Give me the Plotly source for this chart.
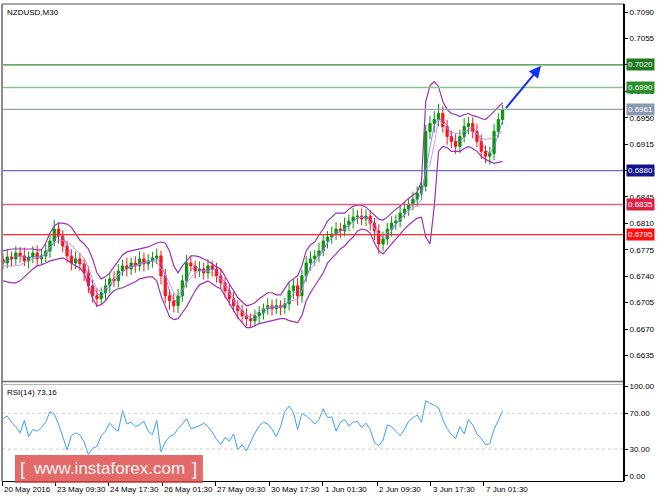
import plotly.graph_objects as go
import pandas as pd

# ---------------- data ----------------
symbol_title = "NZDUSD,M30"
first_open = 0.67620
close = [0.67576, 0.67656, 0.67629, 0.67708, 0.67669, 0.67603, 0.67656, 0.67708, 0.67629, 0.67669,
         0.67735, 0.67867, 0.68025, 0.67932, 0.67801, 0.67669, 0.67576, 0.67629, 0.67563, 0.67444,
         0.67273, 0.67141, 0.67102, 0.67181, 0.67273, 0.67365, 0.67339, 0.67471, 0.67537, 0.67497,
         0.67576, 0.67537, 0.67629, 0.67563, 0.67603, 0.67642, 0.67669, 0.67405, 0.67141, 0.67075,
         0.67010, 0.67141, 0.67339, 0.67576, 0.67537, 0.67471, 0.67497, 0.67444, 0.67537, 0.67497,
         0.67405, 0.67313, 0.67207, 0.67102, 0.67010, 0.66943, 0.66877, 0.66838, 0.66811, 0.66877,
         0.66917, 0.66970, 0.67010, 0.66970, 0.67010, 0.66983, 0.67036, 0.67207, 0.67273, 0.67141,
         0.67405, 0.67576, 0.67629, 0.67669, 0.67735, 0.67867, 0.67919, 0.67959, 0.68025, 0.67999,
         0.68078, 0.68130, 0.68183, 0.68196, 0.68157, 0.68196, 0.68104, 0.67999, 0.67827, 0.67893,
         0.68025, 0.68104, 0.68130, 0.68236, 0.68289, 0.68355, 0.68421, 0.68500, 0.68592, 0.69317,
         0.69423, 0.69476, 0.69555, 0.69383, 0.69251, 0.69186, 0.69120, 0.69251, 0.69383, 0.69423,
         0.69317, 0.69186, 0.69054, 0.68988, 0.69027, 0.69317, 0.69476, 0.69608]
hi_pips = [8, 10, 7, 9, 8, 11, 7, 9, 10, 8, 9, 10, 12, 9, 8, 7, 9, 10, 8, 7,
           9, 8, 10, 7, 9, 8, 10, 9, 8, 11, 7, 9, 10, 8, 9, 8, 10, 7, 9, 8,
           10, 9, 8, 11, 9, 7, 10, 8, 9, 7, 8, 9, 7, 8, 9, 7, 8, 10, 7, 8,
           9, 7, 10, 8, 9, 7, 8, 11, 9, 10, 8, 9, 10, 8, 11, 9, 8, 10, 9, 8,
           10, 9, 12, 8, 10, 9, 8, 7, 9, 10, 8, 9, 8, 10, 9, 8, 10, 9, 8, 9,
           10, 11, 13, 10, 9, 8, 10, 9, 11, 9, 8, 10, 9, 8, 9, 10, 8, 6]
lo_pips = [9, 7, 10, 8, 9, 7, 10, 8, 9, 7, 8, 9, 7, 10, 8, 9, 10, 8, 9, 11,
           10, 9, 11, 8, 9, 10, 8, 9, 7, 10, 8, 9, 7, 10, 8, 9, 8, 11, 10, 12,
           9, 10, 8, 9, 7, 10, 8, 9, 8, 10, 9, 8, 10, 9, 8, 11, 9, 10, 9, 8,
           10, 9, 8, 9, 7, 10, 8, 9, 11, 13, 9, 8, 10, 9, 8, 7, 10, 9, 8, 9,
           7, 8, 10, 9, 8, 9, 10, 12, 13, 9, 8, 10, 9, 8, 7, 9, 8, 10, 9, 7,
           10, 12, 9, 8, 11, 9, 10, 9, 8, 10, 9, 8, 10, 9, 11, 9, 8, 7]
# Bollinger band (outer, purple)
band_upper = [0.67735, 0.67748, 0.67761, 0.67761, 0.67761, 0.67761, 0.67761, 0.67761, 0.67748, 0.67748,
              0.67840, 0.67972, 0.68065, 0.68104, 0.68104, 0.68091, 0.68051, 0.67959, 0.67880, 0.67827,
              0.67761, 0.67629, 0.67445, 0.67365, 0.67392, 0.67445, 0.67524, 0.67616, 0.67682, 0.67722,
              0.67735, 0.67748, 0.67761, 0.67774, 0.67788, 0.67814, 0.67840, 0.67853, 0.67840, 0.67735,
              0.67537, 0.67445, 0.67537, 0.67603, 0.67669, 0.67669, 0.67656, 0.67629, 0.67603, 0.67563,
              0.67524, 0.67497, 0.67392, 0.67300, 0.67207, 0.67115, 0.67062, 0.67009, 0.67023, 0.67049,
              0.67102, 0.67141, 0.67181, 0.67181, 0.67154, 0.67154, 0.67234, 0.67326, 0.67365, 0.67405,
              0.67537, 0.67735, 0.67814, 0.67853, 0.67946, 0.68025, 0.68130, 0.68183, 0.68236, 0.68236,
              0.68236, 0.68289, 0.68328, 0.68341, 0.68341, 0.68315, 0.68262, 0.68210, 0.68157, 0.68144,
              0.68183, 0.68236, 0.68289, 0.68328, 0.68381, 0.68434, 0.68473, 0.68513, 0.68658, 0.69713,
              0.69924, 0.69977, 0.69911, 0.69713, 0.69608, 0.69555, 0.69542, 0.69515, 0.69542, 0.69555,
              0.69528, 0.69515, 0.69489, 0.69476, 0.69528, 0.69581, 0.69647, 0.69700]
band_lower = [0.67339, 0.67326, 0.67313, 0.67313, 0.67339, 0.67392, 0.67445, 0.67497, 0.67537, 0.67550,
              0.67576, 0.67603, 0.67616, 0.67629, 0.67642, 0.67616, 0.67576, 0.67537, 0.67510, 0.67445,
              0.67273, 0.67102, 0.67009, 0.67023, 0.67075, 0.67154, 0.67207, 0.67234, 0.67247, 0.67273,
              0.67300, 0.67326, 0.67365, 0.67379, 0.67392, 0.67392, 0.67339, 0.67141, 0.67009, 0.66864,
              0.66825, 0.66838, 0.66917, 0.66996, 0.67102, 0.67207, 0.67286, 0.67313, 0.67339, 0.67300,
              0.67260, 0.67234, 0.67141, 0.67049, 0.66943, 0.66851, 0.66785, 0.66719, 0.66719, 0.66746,
              0.66772, 0.66785, 0.66798, 0.66812, 0.66825, 0.66838, 0.66838, 0.66812, 0.66798, 0.66785,
              0.66878, 0.67075, 0.67181, 0.67273, 0.67365, 0.67445, 0.67576, 0.67629, 0.67695, 0.67761,
              0.67801, 0.67867, 0.67919, 0.67999, 0.68025, 0.68012, 0.67972, 0.67840, 0.67735, 0.67695,
              0.67761, 0.67827, 0.67893, 0.67972, 0.68025, 0.68078, 0.68130, 0.68170, 0.68183, 0.67919,
              0.67827, 0.68328, 0.69054, 0.69120, 0.69106, 0.69054, 0.69054, 0.69054, 0.69093, 0.69120,
              0.69093, 0.69054, 0.68988, 0.68948, 0.68922, 0.68895, 0.68909, 0.68922]
rsi = [64, 67, 60, 55, 48, 62, 44, 52, 50, 54, 60, 72, 69, 58, 44, 29, 45, 48, 46, 38,
       24, 31, 33, 45, 50, 59, 53, 50, 73, 58, 60, 55, 57, 61, 50, 46, 62, 27, 38, 44,
       46, 53, 58, 64, 53, 54, 56, 59, 55, 49, 41, 35, 43, 39, 47, 29, 35, 28, 38, 48,
       56, 60, 58, 52, 44, 55, 72, 78, 71, 52, 70, 67, 63, 58, 63, 75, 65, 66, 50, 60,
       63, 56, 60, 61, 54, 59, 52, 37, 34, 40, 57, 55, 50, 45, 52, 61, 65, 68, 60, 84,
       81, 79, 76, 63, 53, 46, 42, 55, 47, 63, 57, 47, 42, 35, 36, 52, 62, 73]
rsi_label = "RSI(14) 73.16"
price_ticks = [0.6635, 0.6670, 0.6705, 0.6740, 0.6775, 0.6810, 0.6845,
               0.6880, 0.6915, 0.6950, 0.6985, 0.7020, 0.7055, 0.7090]
rsi_ticks = [0, 30, 70, 100]
time_labels = ["20 May 2016", "23 May 09:30", "24 May 17:30", "26 May 01:30", "27 May 09:30",
               "30 May 17:30", "1 Jun 01:30", "2 Jun 09:30", "3 Jun 17:30", "7 Jun 01:30"]
time_pos = [-0.23, 12.18, 24.59, 37.24, 49.65, 62.3, 74.9, 87.6, 100.2, 112.6]
levels = [0.7020, 0.6990, 0.6961, 0.6880, 0.6835, 0.6795]
level_line_colors = ["#2e8b2e", "#8cc08c", "#8fa3bd", "#6b6bc8", "#e0607a", "#ff2a2a"]
level_tag_colors = ["#1f7a1f", "#2a8f2a", "#8a9aae", "#12128a", "#dc1f45", "#ff1010"]
target_price = 0.70188
target_idx = 126.0

# ---------------- derived series ----------------
n = len(close)
idx = list(range(n))
opens = [first_open] + close[:-1]
highs = [max(o, c) + h * 0.0001 for o, c, h in zip(opens, close, hi_pips)]
lows = [min(o, c) - l * 0.0001 for o, c, l in zip(opens, close, lo_pips)]
s = pd.Series(close)
fast_ma = s.rolling(3, min_periods=1).mean()
band_mid = [(u + l) / 2 for u, l in zip(band_upper, band_lower)]

# tick labels fully hidden under a price tag are left blank
tag_text = {f"{lv:.4f}" for lv in levels}
price_ticktext = ["" if f"{v:.4f}" in tag_text else f"{v:.4f}" for v in price_ticks]

FONT = "Liberation Sans, Arial, sans-serif"

fig = go.Figure()
for ys, col, w in [(band_upper, "#9c32b8", 1.2), (band_lower, "#9c32b8", 1.2),
                   (band_mid, "#c58fd8", 0.9), (list(fast_ma), "#7070ff", 0.8)]:
    fig.add_trace(go.Scatter(x=idx, y=list(ys), mode="lines", line=dict(color=col, width=w),
                             xaxis="x", yaxis="y", hoverinfo="skip", showlegend=False))

fig.add_trace(go.Candlestick(
    x=idx, open=opens, high=highs, low=lows, close=close,
    increasing=dict(line=dict(color="#0a960a", width=1), fillcolor="#0a960a"),
    decreasing=dict(line=dict(color="#ff1414", width=1), fillcolor="#ff1414"),
    whiskerwidth=0, xaxis="x", yaxis="y", showlegend=False))

fig.add_trace(go.Scatter(x=idx, y=rsi, mode="lines", line=dict(color="#3a9cff", width=1),
                         xaxis="x", yaxis="y2", hoverinfo="skip", showlegend=False))

MAIN_BOTTOM = 0.2088
RSI_TOP = 0.2025

shapes = []
for lv, col in zip(levels, level_line_colors):
    shapes.append(dict(type="line", xref="paper", yref="y", x0=0, x1=1, y0=lv, y1=lv,
                       line=dict(color=col, width=1.3)))
for lv in [70, 30]:
    shapes.append(dict(type="line", xref="paper", yref="y2", x0=0, x1=1, y0=lv, y1=lv,
                       line=dict(color="#c8c8c8", width=1, dash="dot")))
shapes += [
    dict(type="line", xref="paper", yref="paper", x0=0, x1=0, y0=0, y1=1,
         line=dict(color="#8c8c8c", width=2)),
    dict(type="line", xref="paper", yref="paper", x0=0, x1=1, y0=1, y1=1,
         line=dict(color="#8c8c8c", width=1.5)),
    dict(type="line", xref="paper", yref="paper", x0=0, x1=1, y0=MAIN_BOTTOM, y1=MAIN_BOTTOM,
         line=dict(color="#6e6e6e", width=1.5)),
    dict(type="line", xref="paper", yref="paper", x0=0, x1=1, y0=RSI_TOP, y1=RSI_TOP,
         line=dict(color="#b0b0b0", width=1)),
    dict(type="line", xref="paper", yref="paper", x0=1, x1=1, y0=0, y1=1,
         line=dict(color="#000000", width=2)),
    dict(type="rect", xref="paper", yref="paper", x0=0.0209, x1=0.323, y0=-0.004, y1=0.0543,
         fillcolor="rgba(222,72,72,0.82)", line=dict(width=0), layer="above"),
]

ann = [
    dict(text=symbol_title, xref="paper", yref="paper", x=0, y=1, xanchor="left", yanchor="top",
         xshift=3, yshift=-2, showarrow=False, font=dict(family=FONT, size=8, color="#000")),
    dict(text=rsi_label, xref="paper", yref="paper", x=0, y=RSI_TOP, xanchor="left", yanchor="top",
         xshift=3, yshift=-2, showarrow=False, font=dict(family=FONT, size=8, color="#000")),
]
for lv, col in zip(levels, level_tag_colors):
    ann.append(dict(text=f"{lv:.4f}", xref="paper", yref="y", x=1, y=lv, xanchor="left",
                    yanchor="middle", xshift=2, showarrow=False, bgcolor=col, borderpad=1,
                    font=dict(family=FONT, size=8, color="#ffffff")))
for lab, pos in zip(time_labels, time_pos):
    ann.append(dict(text=lab, xref="x", yref="paper", x=pos, y=0, xanchor="left", yanchor="top",
                    yshift=-2, showarrow=False, font=dict(family=FONT, size=8, color="#000")))
ann.append(dict(x=target_idx, y=target_price, ax=idx[-1] + 0.5, ay=close[-1], xref="x", yref="y",
                axref="x", ayref="y", showarrow=True, arrowhead=2, arrowsize=1.2, arrowwidth=2,
                arrowcolor="#1030ff", text=""))
ann.append(dict(text="www.instaforex.com", xref="paper", yref="paper", x=0.172, y=0.026,
                xanchor="center", yanchor="middle", showarrow=False,
                font=dict(family="Liberation Sans, Arial", size=17, color="#f4f4f4")))
ann.append(dict(text="[", xref="paper", yref="paper", x=0.034, y=0.026, xanchor="center",
                yanchor="middle", showarrow=False,
                font=dict(family="Liberation Sans, Arial", size=19, color="#f4f4f4")))
ann.append(dict(text="]", xref="paper", yref="paper", x=0.310, y=0.026, xanchor="center",
                yanchor="middle", showarrow=False,
                font=dict(family="Liberation Sans, Arial", size=19, color="#f4f4f4")))

fig.update_layout(
    width=664, height=498, margin=dict(l=2, r=40, t=2, b=17),
    paper_bgcolor="white", plot_bgcolor="white", showlegend=False,
    font=dict(family=FONT, size=8, color="#000"), boxgap=0.25,
    xaxis=dict(range=[-0.234, 145.43], anchor="y2", showgrid=False, zeroline=False,
               rangeslider=dict(visible=False), tickvals=time_pos, ticks="outside", ticklen=4,
               tickcolor="#000", showticklabels=False, showline=True, linecolor="#000",
               linewidth=1),
    yaxis=dict(domain=[MAIN_BOTTOM, 1], range=[0.66007, 0.71006], side="right", anchor="x",
               tickvals=price_ticks, ticktext=price_ticktext,
               ticks="outside", ticklen=3, tickcolor="#000", showgrid=False, zeroline=False,
               showline=False, tickfont=dict(family=FONT, size=8)),
    yaxis2=dict(domain=[0, RSI_TOP], range=[-5.6, 102.2], side="right", anchor="x",
                tickvals=rsi_ticks, ticktext=[f"{v:.2f}" for v in rsi_ticks],
                ticks="outside", ticklen=3, tickcolor="#000", showgrid=False, zeroline=False,
                showline=False, tickfont=dict(family=FONT, size=8)),
    shapes=shapes, annotations=ann,
)

fig.write_html("out.html", config={"displayModeBar": False},
               post_script="document.body.style.margin='0';")
